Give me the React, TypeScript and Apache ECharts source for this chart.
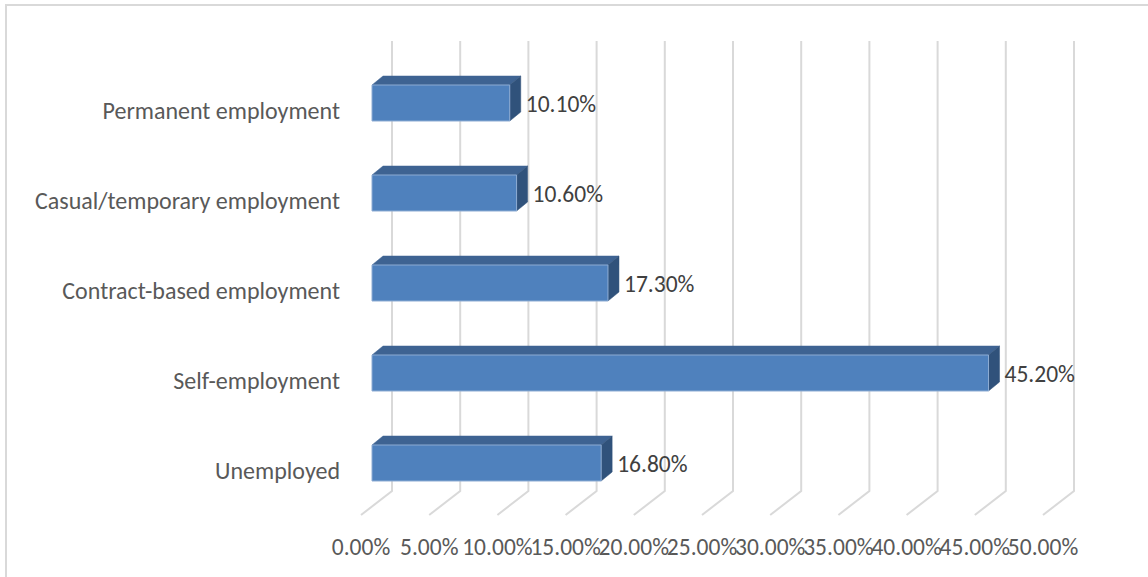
import React, { useEffect, useRef } from "react";
import * as echarts from "echarts";

const categories = [
  "Permanent employment",
  "Casual/temporary employment",
  "Contract-based employment",
  "Self-employment",
  "Unemployed",
];
const values = [10.1, 10.6, 17.3, 45.2, 16.8];
const valueLabels = ["10.10%", "10.60%", "17.30%", "45.20%", "16.80%"];
const xTicks = [0, 5, 10, 15, 20, 25, 30, 35, 40, 45, 50];
const xTickLabels = [
  "0.00%", "5.00%", "10.00%", "15.00%", "20.00%", "25.00%",
  "30.00%", "35.00%", "40.00%", "45.00%", "50.00%",
];

const FONT = "Carlito, Calibri, Lato, 'Noto Sans', sans-serif";

export default function App() {
  const ref = useRef<HTMLDivElement>(null);
  useEffect(() => {
    if (!ref.current) return;
    const chart = echarts.init(ref.current, undefined, { renderer: "svg" });
    const WALL_DX = 31, WALL_DY = -24;
    const BAR_DX = 11, BAR_DY = -7;
    const DEPTH_DX = 11, DEPTH_DY = -9;
    const BAR_H = 36;
    chart.setOption({
      animation: false,
      backgroundColor: "#ffffff",
      grid: { left: 361, width: 682, top: 65, height: 450 },
      graphic: [
        {
          type: "rect",
          shape: { x: 6, y: 5, width: 1200, height: 620 },
          style: { fill: "none", stroke: "#D9D9D9", lineWidth: 2 },
          silent: true,
        },
      ],
      xAxis: {
        type: "value",
        min: 0,
        max: 50,
        interval: 5,
        axisLine: { show: false },
        axisTick: { show: false },
        splitLine: { show: false },
        axisLabel: { show: false },
      },
      yAxis: {
        type: "category",
        inverse: true,
        data: categories,
        axisLine: { show: false },
        axisTick: { show: false },
        splitLine: { show: false },
        axisLabel: {
          color: "#595959",
          fontFamily: FONT,
          fontSize: 24,
          margin: 21,
        },
      },
      series: [
        {
          type: "custom",
          silent: true,
          z: 1,
          data: xTicks.map((v) => [v, 0]),
          renderItem: (params: any, api: any) => {
            const cs = params.coordSys;
            const p = api.coord([api.value(0), 0]);
            const bottom = cs.y + cs.height;
            const top = cs.y + WALL_DY;
            return {
              type: "group",
              children: [
                {
                  type: "polyline",
                  shape: {
                    points: [
                      [p[0] + WALL_DX, top],
                      [p[0] + WALL_DX, bottom + WALL_DY],
                      [p[0], bottom],
                    ],
                  },
                  style: { stroke: "#D9D9D9", lineWidth: 2, fill: "none" },
                },
                {
                  type: "text",
                  x: p[0],
                  y: bottom + 32,
                  style: {
                    text: xTickLabels[params.dataIndex],
                    fill: "#595959",
                    font: `23.5px ${FONT}`,
                    align: "center",
                    verticalAlign: "middle",
                  },
                },
              ],
            };
          },
        },
        {
          type: "custom",
          silent: true,
          z: 2,
          data: values.map((v, i) => [v, i]),
          renderItem: (params: any, api: any) => {
            const v = api.value(0);
            const idx = api.value(1);
            const p0 = api.coord([0, idx]);
            const p1 = api.coord([v, idx]);
            const fx = p0[0] + BAR_DX;
            const fy = p0[1] + BAR_DY - BAR_H / 2;
            const w = p1[0] - p0[0];
            const h = BAR_H;
            return {
              type: "group",
              children: [
                {
                  type: "polygon",
                  shape: {
                    points: [
                      [fx, fy],
                      [fx + w, fy],
                      [fx + w + DEPTH_DX, fy + DEPTH_DY],
                      [fx + DEPTH_DX, fy + DEPTH_DY],
                    ],
                  },
                  style: { fill: "#3E6392", stroke: "#3E6392", lineWidth: 0.5 },
                },
                {
                  type: "polygon",
                  shape: {
                    points: [
                      [fx + w, fy],
                      [fx + w + DEPTH_DX, fy + DEPTH_DY],
                      [fx + w + DEPTH_DX, fy + h + DEPTH_DY],
                      [fx + w, fy + h],
                    ],
                  },
                  style: { fill: "#30527B", stroke: "#30527B", lineWidth: 0.5 },
                },
                {
                  type: "rect",
                  shape: { x: fx, y: fy, width: w, height: h },
                  style: { fill: "#4F81BD", stroke: "#8EACD3", lineWidth: 1 },
                },
                {
                  type: "text",
                  x: fx + w + DEPTH_DX + 5,
                  y: fy + h / 2 + 1,
                  style: {
                    text: valueLabels[params.dataIndex],
                    fill: "#404040",
                    font: `23.5px ${FONT}`,
                    verticalAlign: "middle",
                    align: "left",
                  },
                },
              ],
            };
          },
        },
      ],
    });
    return () => chart.dispose();
  }, []);
  return (
    <div
      ref={ref}
      style={{ position: "fixed", left: 0, top: 0, width: 1148, height: 577 }}
    />
  );
}
